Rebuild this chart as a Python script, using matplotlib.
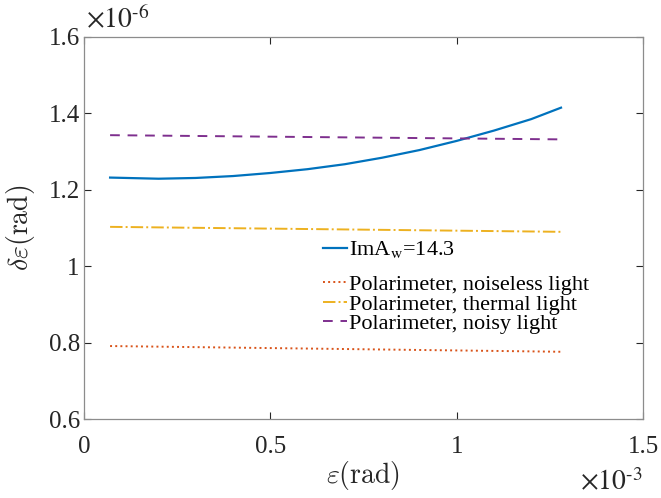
import matplotlib.pyplot as plt

plt.rcParams['font.family'] = ['Liberation Serif', 'DejaVu Serif']
plt.rcParams['mathtext.fontset'] = 'stix'

# x in units of 1e-3 rad, y in units of 1e-6 rad
eps = [0.07, 0.2, 0.3, 0.4, 0.5, 0.6, 0.7, 0.8, 0.9, 1.0, 1.1, 1.2, 1.28]
weak = [1.232, 1.229, 1.231, 1.236, 1.244, 1.254, 1.267, 1.284, 1.304,
        1.328, 1.355, 1.385, 1.415]
eps_pol = [0.07, 1.28]
noiseless = [0.791, 0.776]
thermal = [1.103, 1.090]
noisy = [1.343, 1.332]

gray = '#262626'

fig = plt.figure(figsize=(6.61, 4.98), dpi=100)
ax = fig.add_axes([84 / 661, 79 / 498, 559 / 661, 382 / 498])

l1, = ax.plot(eps, weak, color='#0072BD', lw=1.6)
l2, = ax.plot(eps_pol, noiseless, color='#D95319', lw=1.4, ls=':')
l3, = ax.plot(eps_pol, thermal, color='#EDB120', lw=1.4, ls='-.')
l4, = ax.plot(eps_pol, noisy, color='#7E2F8E', lw=1.4, ls=(0, (5, 4)))

ax.set_xlim(0, 1.5)
ax.set_ylim(0.6, 1.6)
ax.set_xticks([0, 0.5, 1, 1.5])
ax.set_xticklabels(['0', '0.5', '1', '1.5'])
ax.set_yticks([0.6, 0.8, 1.0, 1.2, 1.4, 1.6])
ax.set_yticklabels(['0.6', '0.8', '1', '1.2', '1.4', '1.6'])
ax.tick_params(direction='in', top=True, right=True, labelsize=18,
               colors=gray, labelcolor=gray, length=5, width=0.8, pad=3)
ax.tick_params(axis='x', pad=12)
for s in ax.spines.values():
    s.set_color('#8c8c8c')
    s.set_linewidth(0.9)

ax.set_xlabel(r'$\varepsilon(\mathrm{rad})$', fontsize=20, color=gray,
              labelpad=1, math_fontfamily='cm')
ax.set_ylabel(r'$\delta\varepsilon(\mathrm{rad})$', fontsize=20, color=gray,
              labelpad=8, math_fontfamily='cm')

ax.text(0.004, 1.008, r'$\times10^{\text{-6}}$', transform=ax.transAxes,
        fontsize=20, color=gray, ha='left', va='bottom')
ax.text(1.0, -0.13, r'$\times10^{\text{-3}}$', transform=ax.transAxes,
        fontsize=20, color=gray, ha='right', va='top')

leg_kw = dict(frameon=False, fontsize=16, handlelength=1.05,
              handletextpad=0.12, labelspacing=-0.05, borderaxespad=0,
              borderpad=0, loc='upper left')
leg1 = ax.legend([l1], [r'ImA$_{\rm w}$=14.3'],
                 bbox_to_anchor=(0.428, 0.47), **leg_kw)
ax.add_artist(leg1)
leg2 = ax.legend([l2, l3, l4],
                 ['Polarimeter, noiseless light', 'Polarimeter, thermal light',
                  'Polarimeter, noisy light'],
                 bbox_to_anchor=(0.428, 0.378), **leg_kw)

fig.savefig('out.png', dpi=100)
